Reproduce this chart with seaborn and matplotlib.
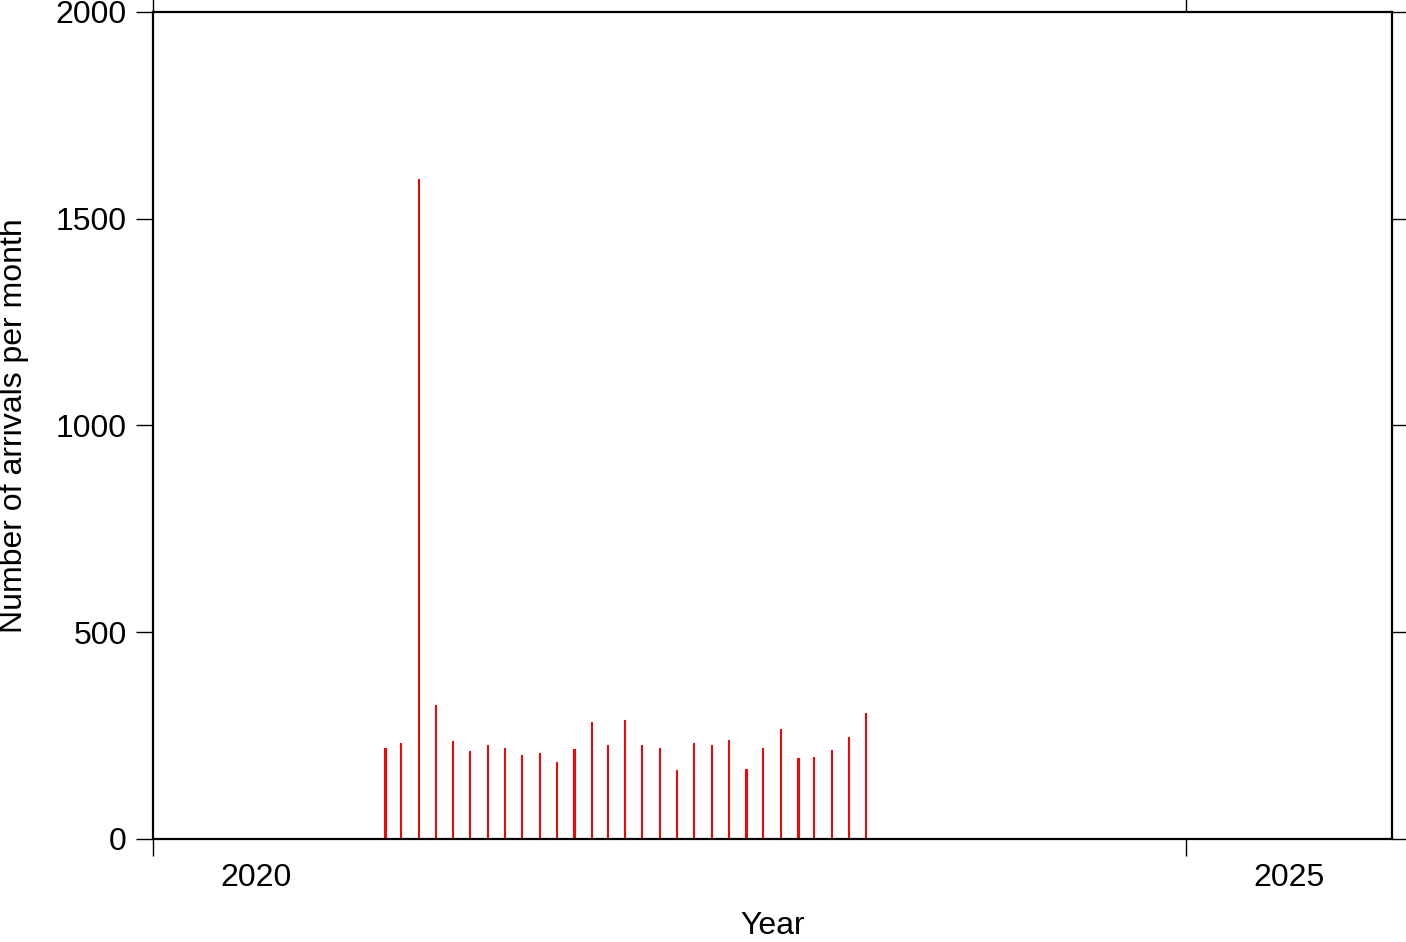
import matplotlib
matplotlib.use("Agg")
import matplotlib.pyplot as plt
import matplotlib.ticker as ticker
import numpy as np
import pandas as pd
import seaborn as sns

# monthly arrival counts (mid-month bins)
months = ["2021-02", "2021-03", "2021-04", "2021-05", "2021-06", "2021-07",
          "2021-08", "2021-09", "2021-10", "2021-11", "2021-12",
          "2022-01", "2022-02", "2022-03", "2022-04", "2022-05", "2022-06",
          "2022-07", "2022-08", "2022-09", "2022-10", "2022-11", "2022-12",
          "2023-01", "2023-02", "2023-03", "2023-04", "2023-05", "2023-06"]
counts = [221, 231, 1595, 325, 238, 214, 228, 220, 203, 209, 187,
          218, 284, 228, 287, 228, 221, 167, 231, 228, 240, 170, 221,
          267, 196, 199, 216, 247, 305]

year_ticks = [2020, 2025]
year_labels = ["2020", "2025"]
y_ticks = [0, 500, 1000, 1500, 2000]

sns.set_style("ticks")
plt.rcParams['font.family'] = ['Liberation Sans', 'DejaVu Sans']
plt.rcParams['text.color'] = 'black'
plt.rcParams['axes.labelcolor'] = 'black'
plt.rcParams['xtick.color'] = 'black'
plt.rcParams['ytick.color'] = 'black'

# convert month to decimal year at the 15th of each month
dates = pd.to_datetime([m + "-16" for m in months])
days_in_year = np.where(dates.is_leap_year, 366, 365)
dec_year = dates.year + (dates.dayofyear - 1) / days_in_year
df = pd.DataFrame({"year": dec_year, "count": counts})

fig = plt.figure(figsize=(14.06, 9.42), dpi=100)
ax = fig.add_axes([153/1406, 1 - 839/942, (1392-153)/1406, (839-12)/942])

sns.barplot(data=df, x="year", y="count", native_scale=True, width=0.13,
            color="#ff0000", saturation=1, linewidth=0, ax=ax)

ax.set_xlim(2020, 2026)
ax.set_ylim(0, 2000)

# major ticks at years, labels centred in the year interval
ax.xaxis.set_major_locator(ticker.FixedLocator(year_ticks))
ax.xaxis.set_major_formatter(ticker.NullFormatter())
ax.xaxis.set_minor_locator(ticker.FixedLocator([y + 0.5 for y in year_ticks]))
ax.xaxis.set_minor_formatter(ticker.FixedFormatter(year_labels))
ax.yaxis.set_major_locator(ticker.FixedLocator(y_ticks))

ax.tick_params(axis="both", which="major", direction="out", length=12, width=1,
               labelsize=23, pad=7, top=True, right=True, color="black",
               labelcolor="black")
ax.tick_params(axis="x", which="minor", length=0, labelsize=23, pad=17,
               labelcolor="black")

for s in ax.spines.values():
    s.set_visible(True)
    s.set_linewidth(1.6)
    s.set_color("black")

ax.set_xlabel("Year", fontsize=23)
ax.set_ylabel("Number of arrivals per month", fontsize=23)
ax.xaxis.set_label_coords(0.5, (839 - 926) / 827)
ax.xaxis.label.set_va("center")
ax.yaxis.set_label_coords((14 - 153) / 1239, 0.5)
ax.yaxis.label.set_va("center")

fig.savefig("out.png", dpi=100)
